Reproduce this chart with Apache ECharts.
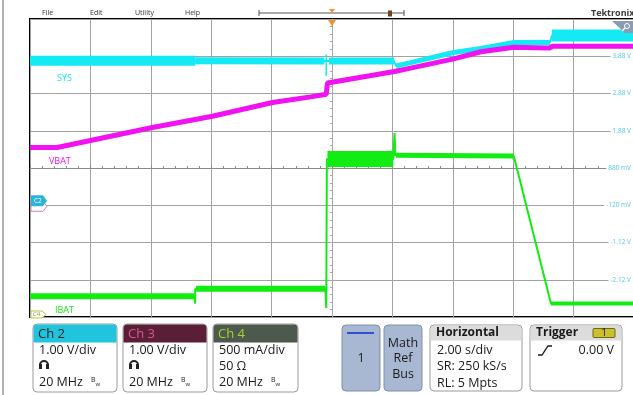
<!DOCTYPE html>
<html>
<head>
<meta charset="utf-8">
<script src="https://cdn.jsdelivr.net/npm/echarts@6/dist/echarts.min.js"></script>
<style>
html, body { margin: 0; padding: 0; background: #fff; }
#main { width: 633px; height: 395px; }
</style>
</head>
<body>
<div id="main"></div>
<script>
// time in s (2 s/div, trigger at 0)
const sysTime  = [-10, -4.53, -0.25, -0.1, 2.05, 2.12, 2.6, 4.03, 4.93, 6.02, 7.22, 7.28, 10]
const sysVolts = [3.76, 3.76, 3.75, 3.75, 3.75, 3.62, 3.71, 3.98, 4.09, 4.25, 4.25, 4.44, 4.44]
const sysSpikeTime  = [-0.19, -0.19]
const sysSpikeVolts = [3.93, 3.35]

const vbatTime  = [-10, -9.1, -5.99, -3.96, -1.97, -0.71, -0.19, -0.15, 2.07, 2.6, 4.03, 4.93, 6.02, 7.2, 7.3, 10]
const vbatVolts = [1.43, 1.43, 1.96, 2.27, 2.64, 2.79, 2.86, 3.16, 3.47, 3.56, 3.81, 4.0, 4.12, 4.1, 4.15, 4.15]

const ibatTime = [-10, -4.56, -4.53, -4.53, -4.5, -0.22, -0.19, -0.17, -0.15, 2.03, 2.07, 2.1, 2.12, 6.02, 7.25, 10]
const ibatAmps = [0.28, 0.28, 0.18, 0.38, 0.38, 0.38, 0.12, 2.12, 2.12, 2.12, 2.47, 2.17, 2.17, 2.16, 0.18, 0.18]

// noisy stretches of each trace (time windows)
const sysNoise  = [[-10, -4.53], [-4.53, -0.25], [-0.1, 2.05], [2.12, 7.22], [7.28, 10]]
const ibatNoise = [[-10, -4.56], [-4.5, -0.22], [-0.15, 2.03], [2.12, 6.02], [7.25, 10]]

const sysNoiseWidth  = [10, 7, 7, 5, 12]
const ibatNoiseWidth = [6, 6, 16, 5, 4]

const CYAN = '#14eaf4'
const MAGENTA = '#f012f0'
const GREEN = '#12ec12'
const GRIDC = '#a2a2a2'
const FONT = '"Open Sans", "Noto Sans", sans-serif'

const pairs = (t, v) => t.map((x, i) => [x, v[i]])
const inWindow = (pts, w) => pts.filter(p => p[0] >= w[0] && p[0] <= w[1])

const trace = (data, color, width, yAxisIndex, z) => ({
    type: 'line',
    data: data,
    xAxisIndex: 0,
    yAxisIndex: yAxisIndex,
    symbol: 'none',
    silent: true,
    z: z,
    lineStyle: { color: color, width: width, cap: 'butt' }
})

const sysPts = pairs(sysTime, sysVolts)
const ibatPts = pairs(ibatTime, ibatAmps)

const series = []
sysNoise.forEach((w, i) => series.push(trace(inWindow(sysPts, w), CYAN, sysNoiseWidth[i], 0, 2)))
series.push(trace(sysPts, CYAN, 2, 0, 2))
series.push(trace(pairs(sysSpikeTime, sysSpikeVolts), CYAN, 1.5, 0, 2))
series.push(trace(pairs(vbatTime, vbatVolts), MAGENTA, 5, 0, 3))
ibatNoise.forEach((w, i) => series.push(trace(inWindow(ibatPts, w), GREEN, ibatNoiseWidth[i], 1, 4)))
series.push(trace(ibatPts, GREEN, 2, 1, 4))

const voltLabel = v => Math.abs(v) < 1 ? Math.round(v * 1000) + ' mV' : v.toFixed(2) + ' V'

const chart = echarts.init(document.getElementById('main'))

chart.setOption({
    animation: false,
    backgroundColor: '#fff',
    grid: {
        left: 30, right: -1, top: 19, bottom: 78,
        show: true, borderColor: '#000', borderWidth: 2,
        outerBoundsMode: 'none'
    },
    xAxis: [
        {
            type: 'value', min: -10, max: 10, interval: 2,
            axisLine: { show: false, onZero: false },
            axisTick: { show: false },
            axisLabel: { show: false },
            splitLine: { show: true, lineStyle: { color: GRIDC, width: 1 } }
        },
        {
            // centre horizontal with graticule ticks
            type: 'value', min: -10, max: 10, interval: 2,
            axisLine: { show: true, onZero: true, onZeroAxisIndex: 2, lineStyle: { color: '#8a8a8a' } },
            axisTick: { show: true, length: 3, lineStyle: { color: '#8a8a8a' } },
            minorTick: { show: true, splitNumber: 5, length: 2, lineStyle: { color: '#8a8a8a' } },
            axisLabel: { show: false },
            splitLine: { show: false }
        }
    ],
    yAxis: [
        {
            // Ch2 scale, 1 V/div
            type: 'value', position: 'right', min: -3.12, max: 4.88, interval: 1,
            axisLine: { show: false, onZero: false },
            axisTick: { show: false },
            axisLabel: {
                inside: true, margin: 1, formatter: voltLabel,
                fontSize: 6.5, fontFamily: FONT, color: '#4fc6e6',
                backgroundColor: '#fff', padding: [1, 2],
                showMinLabel: false, showMaxLabel: false
            },
            splitLine: { show: true, lineStyle: { color: GRIDC, width: 1 } }
        },
        {
            // Ch4, 500 mA/div
            type: 'value', min: 0, max: 4, show: false
        },
        {
            // centre vertical with graticule ticks
            type: 'value', min: -4, max: 4, interval: 1, position: 'left',
            axisLine: { show: true, onZero: true, onZeroAxisIndex: 0, lineStyle: { color: '#a8a8a8' } },
            axisTick: { show: true, length: 3, lineStyle: { color: '#a8a8a8' } },
            minorTick: { show: true, splitNumber: 5, length: 2, lineStyle: { color: '#a8a8a8' } },
            axisLabel: { show: false },
            splitLine: { show: false }
        }
    ],
    series: series
})

// screen furniture
const txt = (x, y, text, fill, size, extra) => Object.assign({
    type: 'text', x: x, y: y, silent: true,
    style: { text: text, fill: fill, font: (extra && extra.bold ? 'bold ' : '') + size + 'px ' + FONT, textVerticalAlign: 'middle', textAlign: (extra && extra.align) || 'left' }
}, { z: 100 })

const rect = (x, y, w, h, r, fill, stroke) => ({
    type: 'rect', silent: true, z: 90,
    shape: { x: x, y: y, width: w, height: h, r: r },
    style: { fill: fill, stroke: stroke || null, lineWidth: 1 }
})

const poly = (points, fill, stroke) => ({
    type: 'polygon', silent: true, z: 95,
    shape: { points: points },
    style: { fill: fill, stroke: stroke || null, lineWidth: 1 }
})

const pline = (points, stroke, width) => ({
    type: 'polyline', silent: true, z: 95,
    shape: { points: points },
    style: { stroke: stroke, lineWidth: width, fill: null }
})

const probeIcon = (x, y) => [
    { type: 'arc', silent: true, z: 100, shape: { cx: x + 5, cy: y + 1, r: 4, startAngle: Math.PI, endAngle: 2 * Math.PI }, style: { stroke: '#222', lineWidth: 2, fill: null } },
    rect(x, y, 3, 5, 0, '#222'),
    rect(x + 7, y, 3, 5, 0, '#222')
]

const bwMark = (x, y) => [
    txt(x, y - 2, 'B', '#222', 7),
    txt(x + 4.5, y + 2, 'w', '#222', 6)
]

const chanBox = (x, w, title, headFill, headText, lines, icon) => {
    const els = [
        rect(x, 324, w, 68, 4, '#fff', '#9a9a9a'),
        rect(x + 0.5, 324.5, w - 1, 18, [4, 4, 0, 0], headFill),
        txt(x + 5, 334, title, headText, 13),
        txt(x + 6, 350, lines[0], '#1a1a1a', 12.5),
        txt(x + 6, 382, lines[2], '#1a1a1a', 12.5)
    ]
    if (icon) els.push(...probeIcon(x + 6, 364))
    else els.push(txt(x + 6, 366, lines[1], '#1a1a1a', 12.5))
    els.push(...bwMark(x + 58, 382))
    return els
}

const buildGraphic = () => {
    const y2 = chart.convertToPixel({ yAxisIndex: 0 }, 0)
    const y4 = Math.min(chart.convertToPixel({ yAxisIndex: 1 }, 0), 314.5)
    const xTrig = chart.convertToPixel({ xAxisIndex: 0 }, 0)

    return [
        // left frame
        pline([[3, 0], [3, 395]], '#666', 1),
        // menu bar
        txt(42, 13, 'File', '#333', 7),
        txt(90, 13, 'Edit', '#333', 7),
        txt(135, 13, 'Utility', '#333', 7),
        txt(185, 13, 'Help', '#333', 7),
        pline([[259, 13], [404, 13]], '#555', 1),
        pline([[259, 10], [259, 16]], '#555', 1),
        pline([[404, 10], [404, 16]], '#555', 1),
        poly([[xTrig - 3, 9], [xTrig + 3, 9], [xTrig, 13]], '#f0922c'),
        rect(388, 10.5, 4, 6, 0, '#7a3c10'),
        txt(591, 13, 'Tektronix', '#3a3a3a', 9, { bold: true }),
        // trigger position marker
        poly([[xTrig - 4, 20], [xTrig + 4, 20], [xTrig, 26]], '#f0922c'),
        // zoom corner
        poly([[612, 21], [633, 21], [633, 33], [625, 33]], '#8a9bb2'),
        { type: 'circle', silent: true, z: 100, shape: { cx: 627, cy: 26, r: 2.5 }, style: { stroke: '#fff', lineWidth: 1, fill: null } },
        pline([[625, 28], [622, 31]], '#fff', 1.2),
        // trace names
        txt(57, 78, 'SYS', CYAN, 9),
        txt(49, 161, 'VBAT', MAGENTA, 9),
        txt(55, 310, 'IBAT', GREEN, 9),
        // ground markers
        poly([[31, y2 + 0.5], [43, y2 + 0.5], [47, y2 + 5.5], [43, y2 + 10.5], [31, y2 + 10.5]], '#fff', '#e27bb4'),
        poly([[31, y2 - 5.5], [43, y2 - 5.5], [47, y2], [43, y2 + 5.5], [31, y2 + 5.5]], '#2ab4da'),
        txt(34, y2, 'C2', '#fff', 6.5),
        poly([[31, y4 - 3.5], [42, y4 - 3.5], [46, y4], [42, y4 + 3.5], [31, y4 + 3.5]], '#fff', '#b4cc3c'),
        txt(33, y4, 'C4', '#8aa030', 6),
        // channel boxes
        ...chanBox(33, 84, 'Ch 2', '#20c4dc', '#1a1a1a', ['1.00 V/div', '', '20 MHz'], true),
        ...chanBox(123, 84, 'Ch 3', '#5a1e36', '#d65a98', ['1.00 V/div', '', '20 MHz'], true),
        ...chanBox(213, 85, 'Ch 4', '#4c594c', '#a6d22e', ['500 mA/div', '50 Ω', '20 MHz'], false),
        // buttons
        rect(342, 325, 38, 66, 4, '#a9b8d2', '#8090a8'),
        pline([[347, 333], [374, 333]], '#2e50d2', 2),
        txt(361, 358, '1', '#1a1a1a', 12.5, { align: 'center' }),
        rect(384, 325, 38, 66, 4, '#a9b8d2', '#8090a8'),
        txt(403, 343, 'Math', '#1a1a1a', 12.5, { align: 'center' }),
        txt(403, 358, 'Ref', '#1a1a1a', 12.5, { align: 'center' }),
        txt(403, 374, 'Bus', '#1a1a1a', 12.5, { align: 'center' }),
        // horizontal box
        rect(430, 325, 92, 66, 4, '#fff', '#9a9a9a'),
        rect(430.5, 325.5, 91, 15, [4, 4, 0, 0], '#dcdcdc'),
        txt(436, 333, 'Horizontal', '#1a1a1a', 12, { bold: true }),
        txt(437, 350, '2.00 s/div', '#1a1a1a', 12.5),
        txt(437, 366, 'SR: 250 kS/s', '#1a1a1a', 12.5),
        txt(437, 383, 'RL: 5 Mpts', '#1a1a1a', 12.5),
        // trigger box
        rect(530, 325, 92, 66, 4, '#fff', '#9a9a9a'),
        rect(530.5, 325.5, 91, 15, [4, 4, 0, 0], '#dcdcdc'),
        txt(536, 333, 'Trigger', '#1a1a1a', 12, { bold: true }),
        rect(593, 328.5, 22, 9, 1, '#c9c02a', '#6a6a20'),
        txt(604, 333, '1', '#1a1a1a', 10, { align: 'center' }),
        pline([[538, 355], [542, 355], [548, 346], [552, 346]], '#1a1a1a', 1.3),
        txt(614, 350, '0.00 V', '#1a1a1a', 12.5, { align: 'right' })
    ]
}

chart.setOption({ graphic: buildGraphic() })
</script>
</body>
</html>
